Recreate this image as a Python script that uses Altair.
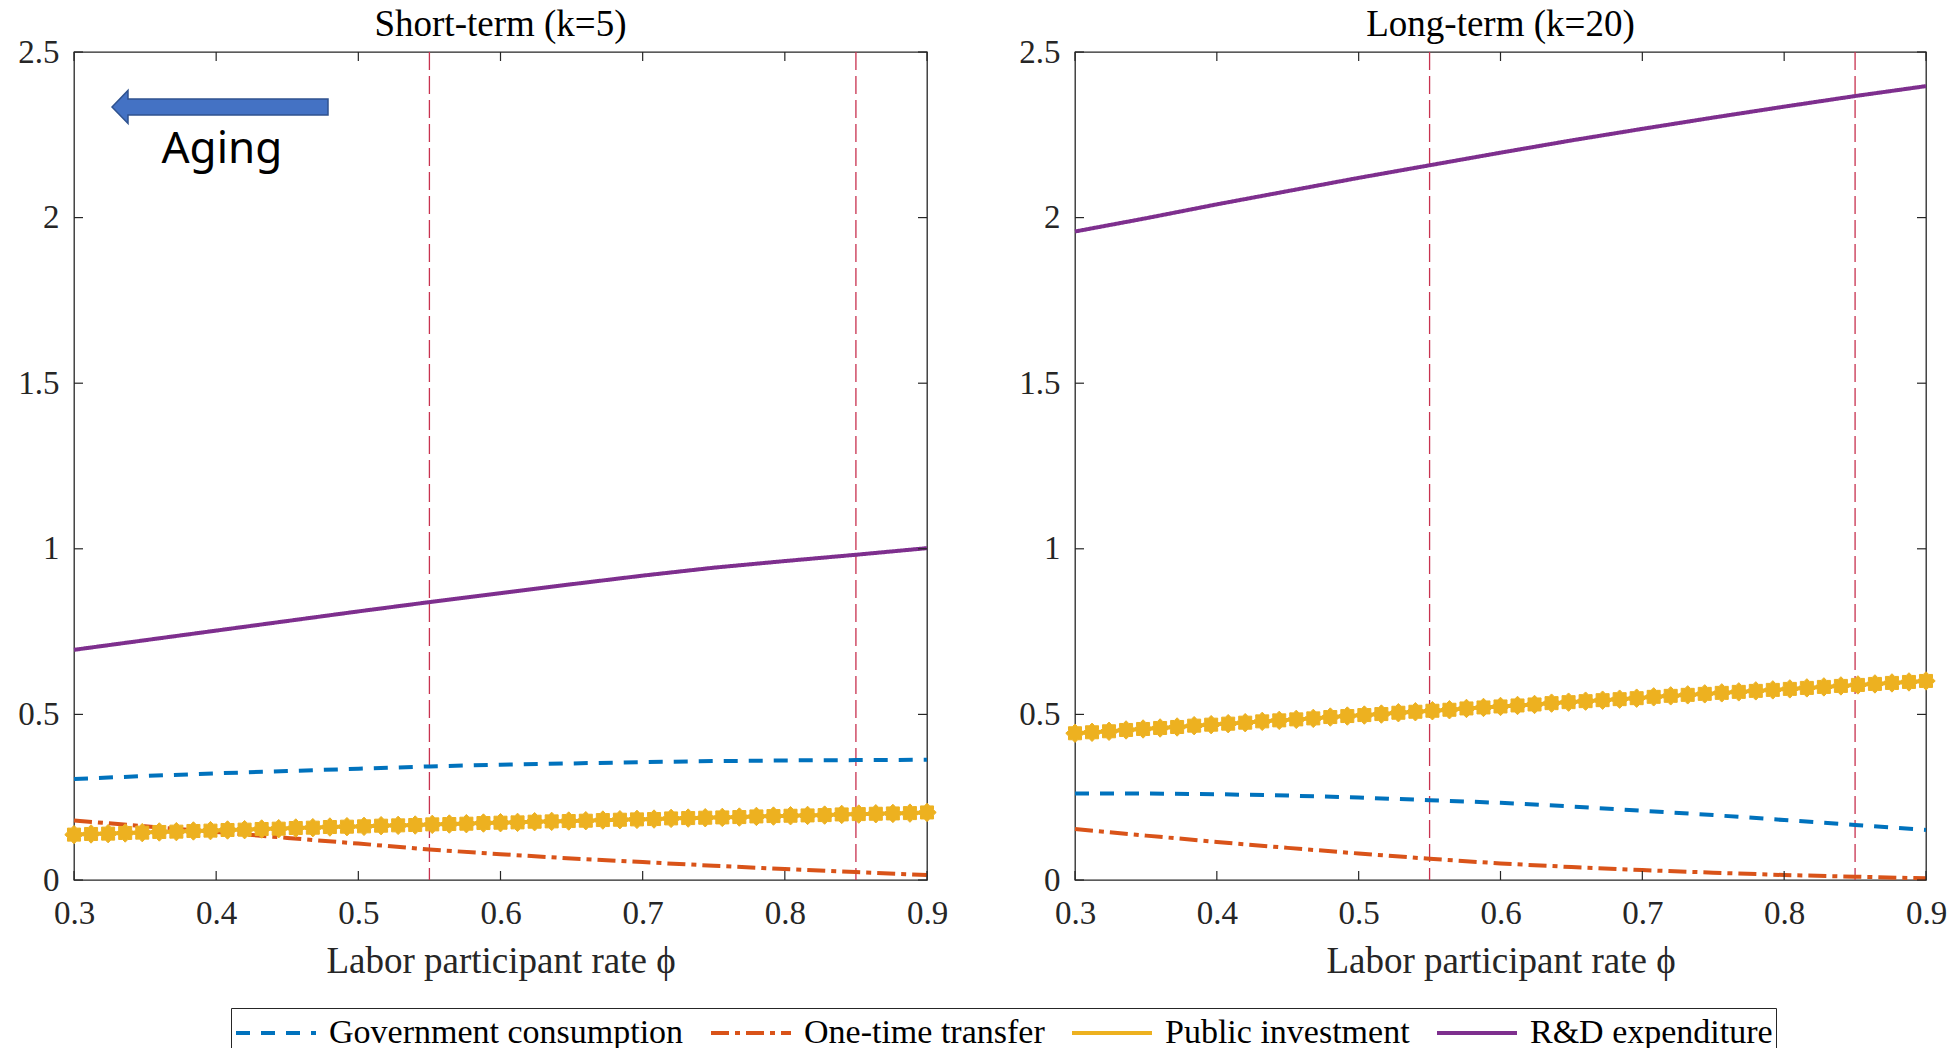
import math
import altair as alt
import pandas as pd

# ---------------- data ----------------
SERIES = ["Government consumption", "One-time transfer", "Public investment", "R&D expenditure"]
COLORS = ["#0072BD", "#D95319", "#EDB120", "#7E2F8E"]

phi_line = [0.30, 0.35, 0.40, 0.45, 0.50, 0.55, 0.60, 0.65, 0.70, 0.75, 0.80, 0.85, 0.90]
phi_pub = [0.300, 0.312, 0.324, 0.336, 0.348, 0.360, 0.372, 0.384, 0.396, 0.408,
           0.420, 0.432, 0.444, 0.456, 0.468, 0.480, 0.492, 0.504, 0.516, 0.528,
           0.540, 0.552, 0.564, 0.576, 0.588, 0.600, 0.612, 0.624, 0.636, 0.648,
           0.660, 0.672, 0.684, 0.696, 0.708, 0.720, 0.732, 0.744, 0.756, 0.768,
           0.780, 0.792, 0.804, 0.816, 0.828, 0.840, 0.852, 0.864, 0.876, 0.888, 0.900]

# Short-term (k=5)
short_gov = [0.305, 0.314, 0.322, 0.329, 0.336, 0.343, 0.348, 0.352, 0.356, 0.359, 0.361, 0.362, 0.363]
short_one = [0.180, 0.162, 0.145, 0.127, 0.110, 0.092, 0.078, 0.065, 0.054, 0.043, 0.033, 0.024, 0.015]
short_rd = [0.695, 0.724, 0.753, 0.782, 0.811, 0.839, 0.866, 0.893, 0.919, 0.943, 0.963, 0.982, 1.002]
short_pub = [0.137, 0.139, 0.140, 0.142, 0.143, 0.145, 0.146, 0.148, 0.149, 0.151,
             0.152, 0.154, 0.155, 0.157, 0.158, 0.160, 0.161, 0.162, 0.164, 0.165,
             0.166, 0.168, 0.169, 0.170, 0.172, 0.173, 0.174, 0.176, 0.177, 0.178,
             0.179, 0.181, 0.182, 0.183, 0.184, 0.186, 0.187, 0.188, 0.189, 0.190,
             0.192, 0.193, 0.194, 0.195, 0.196, 0.198, 0.199, 0.200, 0.201, 0.202, 0.204]

# Long-term (k=20)
long_gov = [0.261, 0.261, 0.259, 0.255, 0.249, 0.241, 0.233, 0.222, 0.209, 0.196, 0.181, 0.166, 0.151]
long_one = [0.154, 0.134, 0.115, 0.097, 0.080, 0.064, 0.050, 0.039, 0.030, 0.022, 0.015, 0.010, 0.005]
long_rd = [1.958, 1.998, 2.040, 2.080, 2.120, 2.158, 2.196, 2.233, 2.268, 2.302, 2.335, 2.367, 2.397]
long_pub = [0.443, 0.446, 0.449, 0.453, 0.456, 0.459, 0.462, 0.466, 0.469, 0.472,
            0.475, 0.479, 0.482, 0.485, 0.488, 0.492, 0.495, 0.498, 0.501, 0.505,
            0.508, 0.511, 0.514, 0.518, 0.521, 0.524, 0.527, 0.530, 0.534, 0.537,
            0.540, 0.543, 0.546, 0.549, 0.553, 0.556, 0.559, 0.562, 0.565, 0.568,
            0.571, 0.574, 0.577, 0.580, 0.583, 0.586, 0.589, 0.592, 0.595, 0.598, 0.601]

vline_x = [0.55, 0.85]
x_ticks = [0.3, 0.4, 0.5, 0.6, 0.7, 0.8, 0.9]
y_ticks = [0, 0.5, 1, 1.5, 2, 2.5]

# annotation ("Aging" arrow) in data coordinates of the left panel
arrow_x = [0.4027]
arrow_y = [2.334]
aging_x = [0.404]
aging_y = [2.166]
aging_text = ["Aging"]

# ---------------- styles ----------------
DASHES = [[14, 11], [18, 6, 5, 6], [1, 0], [1, 0]]
AX = "#262626"
H = 828
W_LEFT = 853
W_RIGHT = 851

# arrow shape (unit box), star-like marker shape, long legend stroke
ARROW = ("M -1 0 L -0.852 -0.153 L -0.852 -0.074 L 1 -0.074 L 1 0.074 "
         "L -0.852 0.074 L -0.852 0.153 Z")
pts = []
for k in range(16):
    r = 1.0 if k % 2 == 0 else 0.76
    a = math.pi * k / 8
    pts.append(f"{r * math.cos(a):.3f} {r * math.sin(a):.3f}")
MARKER = "M " + " L ".join(pts) + " Z"
LEG_STROKE = "M -2 0 L 2 0"

xscale = alt.Scale(domain=[0.3, 0.9], nice=False, zero=False)
yscale = alt.Scale(domain=[0, 2.5], nice=False, zero=True)
xaxis = alt.Axis(values=x_ticks, format=".1f", labelPadding=17, titlePadding=13,
                 labelFlush=False, title="Labor participant rate \u03d5")
yaxis = alt.Axis(values=y_ticks, format="~g", labelPadding=15, labelFlush=False, title=None)

LEGEND = dict(title=None, orient="none", direction="horizontal", legendX=157, legendY=956)


def X(field):
    return alt.X(field, type="quantitative", scale=xscale, axis=xaxis,
                 title="Labor participant rate \u03d5")


def Y(field):
    return alt.Y(field, type="quantitative", scale=yscale, axis=yaxis, title=None)


def panel(title, gov, one, pub, rd, width, with_arrow):
    rows = []
    for name, vals in [(SERIES[0], gov), (SERIES[1], one), (SERIES[3], rd)]:
        for p, v in zip(phi_line, vals):
            rows.append({"phi": p, "value": v, "series": name})
    for p, v in zip(phi_pub, pub):
        rows.append({"phi": p, "value": v, "series": SERIES[2]})
    df = pd.DataFrame(rows)
    pub_df = pd.DataFrame({"phi": phi_pub, "value": pub})

    vl = alt.Chart(pd.DataFrame({"phi": vline_x})).mark_rule(
        color="#C8324F", strokeWidth=1.3, strokeDash=[18, 6]
    ).encode(x=X("phi"))

    lines = alt.Chart(df).mark_line(strokeWidth=4).encode(
        x=X("phi"),
        y=Y("value"),
        color=alt.Color("series:N", scale=alt.Scale(domain=SERIES, range=COLORS),
                        legend=alt.Legend(**LEGEND)),
        strokeDash=alt.StrokeDash("series:N", scale=alt.Scale(domain=SERIES, range=DASHES),
                                  legend=alt.Legend(**LEGEND)),
        detail="series:N",
        order="phi:Q",
    )

    markers = alt.Chart(pub_df).mark_point(
        shape=MARKER, filled=True, size=340, color=COLORS[2], opacity=1,
        stroke=COLORS[2], strokeWidth=1
    ).encode(x=X("phi"), y=Y("value"))

    xt = pd.DataFrame({"phi": x_ticks})
    yt = pd.DataFrame({"value": y_ticks})
    tick_b = alt.Chart(xt).mark_rule(color=AX, strokeWidth=1.2).encode(
        x=X("phi"), y=alt.value(H), y2=alt.value(H - 9))
    tick_t = alt.Chart(xt).mark_rule(color=AX, strokeWidth=1.2).encode(
        x=X("phi"), y=alt.value(0), y2=alt.value(9))
    tick_l = alt.Chart(yt).mark_rule(color=AX, strokeWidth=1.2).encode(
        y=Y("value"), x=alt.value(0), x2=alt.value(9))
    tick_r = alt.Chart(yt).mark_rule(color=AX, strokeWidth=1.2).encode(
        y=Y("value"), x=alt.value(width), x2=alt.value(width - 9))

    layers = [vl, lines, markers, tick_b, tick_t, tick_l, tick_r]
    if with_arrow:
        arr = alt.Chart(pd.DataFrame({"phi": arrow_x, "value": arrow_y})).mark_point(
            shape=ARROW, size=216 * 216, filled=True, fill="#4472C4", stroke="#2F528F",
            strokeWidth=1.5, opacity=1
        ).encode(x=X("phi"), y=Y("value"))
        txt = alt.Chart(pd.DataFrame({"phi": aging_x, "value": aging_y, "t": aging_text})).mark_text(
            font="Noto Sans", fontSize=44, color="black", align="center", baseline="alphabetic"
        ).encode(x=X("phi"), y=Y("value"), text="t:N")
        layers += [arr, txt]

    return alt.layer(*layers).properties(
        width=width, height=H,
        title=alt.TitleParams(title, anchor="middle", frame="group"),
    )


left = panel("Short-term (k=5)", short_gov, short_one, short_pub, short_rd, W_LEFT, True)
right = panel("Long-term (k=20)", long_gov, long_one, long_pub, long_rd, W_RIGHT, False)

chart = alt.hconcat(left, right, spacing=148, bounds="flush").properties(
    padding={"left": 17, "top": 5, "right": 5, "bottom": 0}
).configure_view(
    stroke=AX, strokeWidth=1.3
).configure_axis(
    labelFont="Liberation Serif", labelFontSize=33, labelColor=AX,
    titleFont="Liberation Serif", titleFontSize=37, titleFontWeight="normal", titleColor=AX,
    ticks=False, domain=False, grid=False,
).configure_title(
    font="Liberation Serif", fontSize=37, fontWeight="normal", color="black", offset=-8
).configure_legend(
    labelFont="Liberation Serif", labelFontSize=34, labelColor="black", labelLimit=0,
    symbolType=LEG_STROKE, symbolSize=1600, symbolStrokeWidth=4, symbolOffset=20,
    strokeColor=AX, padding=3, columnPadding=19, labelOffset=31,
)

chart.save("out.html", embed_options={"renderer": "svg", "actions": False})
